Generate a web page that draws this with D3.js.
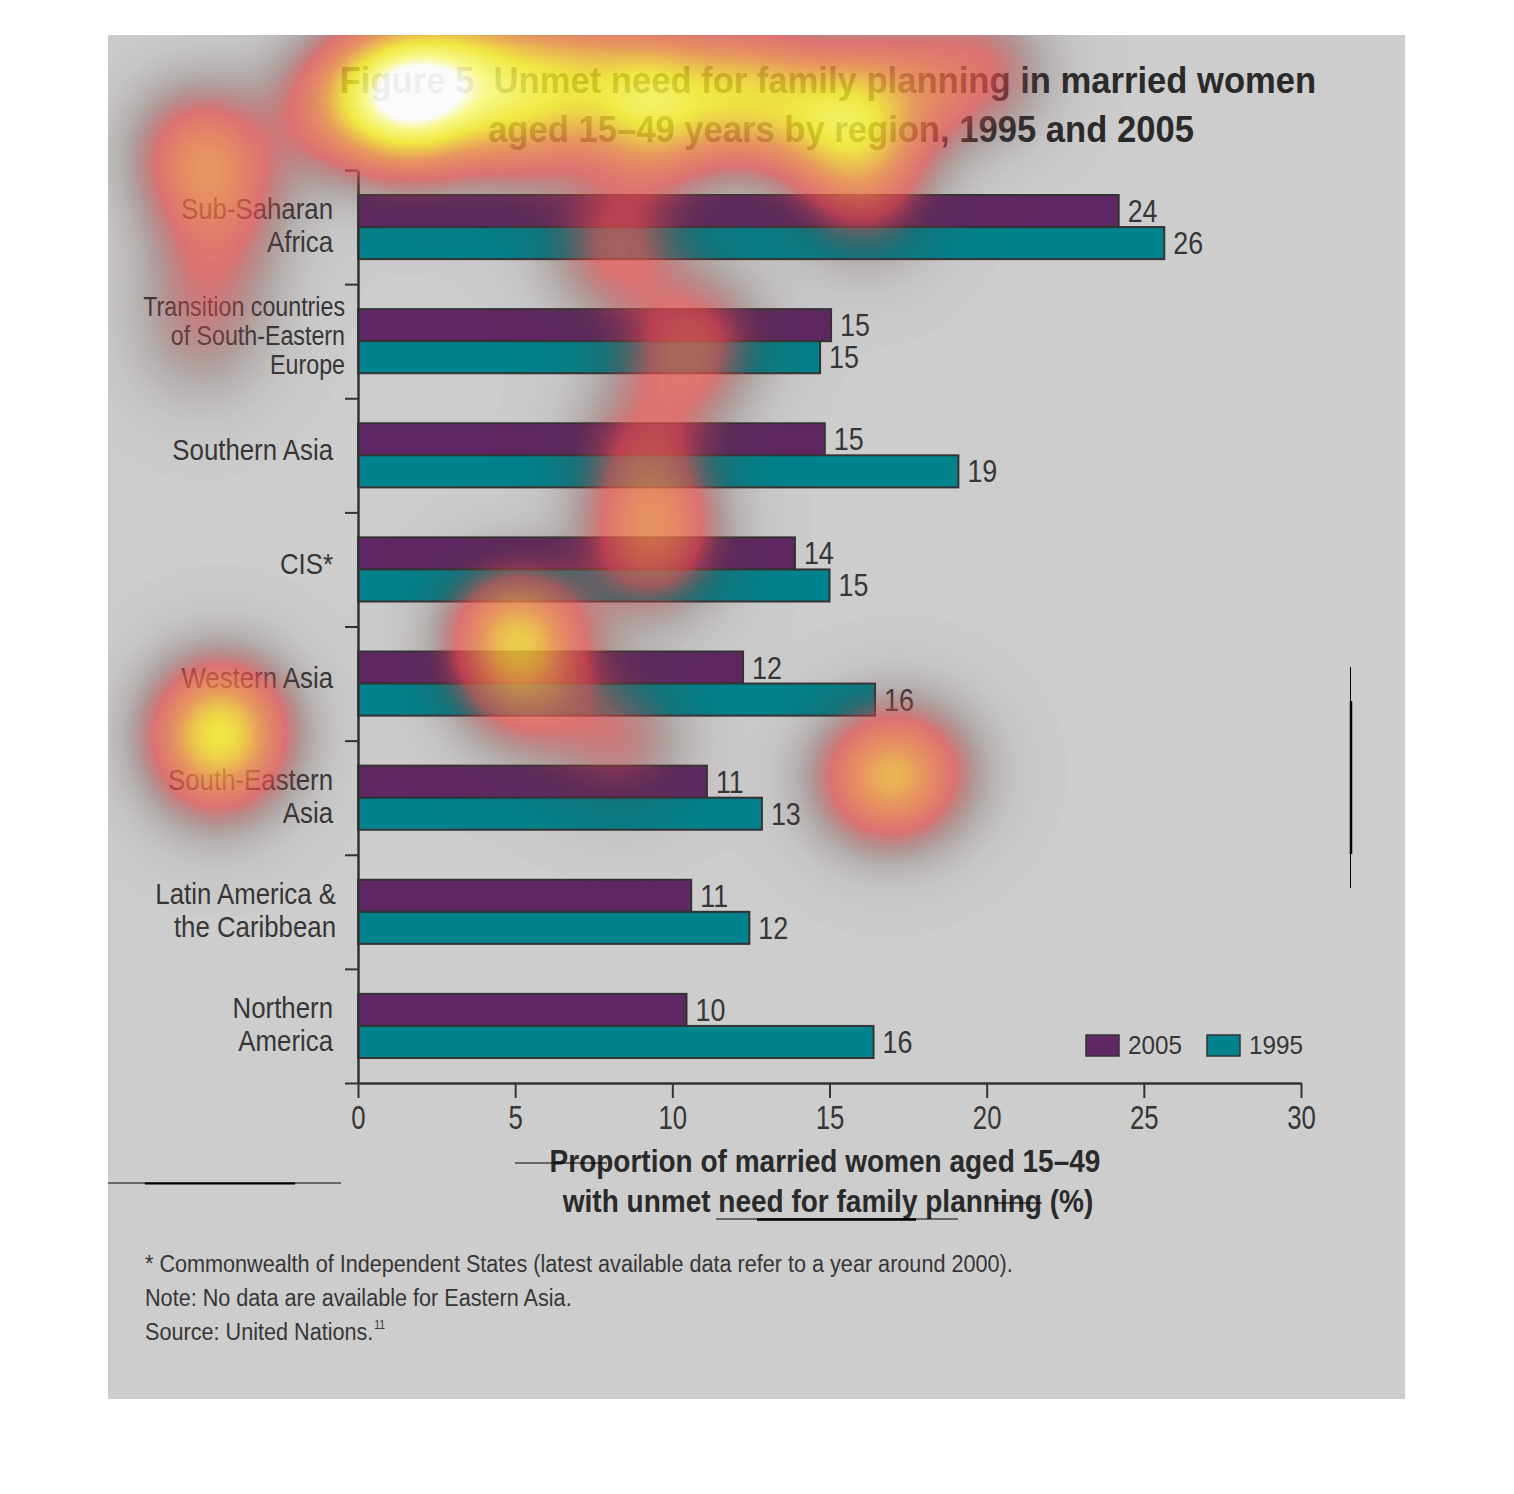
<!DOCTYPE html>
<html>
<head>
<meta charset="utf-8">
<script src="https://cdn.jsdelivr.net/npm/d3@7"></script>
<style>
  body { margin: 0; background: #fff; }
  #wrap { position: relative; width: 1514px; height: 1494px; }
  #heat { position: absolute; left: 0; top: 0; pointer-events: none; }
  text { font-family: "Liberation Sans", Arial, sans-serif; }
</style>
</head>
<body>
<div id="wrap"></div>
<script>
// ---- Data ----
const regions = ['Sub-Saharan Africa', 'Transition countries of South-Eastern Europe', 'Southern Asia', 'CIS*',
  'Western Asia', 'South-Eastern Asia', 'Latin America & the Caribbean', 'Northern America'];
const regionLines = [['Sub-Saharan', 'Africa'], ['Transition countries', 'of South-Eastern', 'Europe'], ['Southern Asia'], ['CIS*'],
  ['Western Asia'], ['South-Eastern', 'Asia'], ['Latin America &', 'the Caribbean'], ['Northern', 'America']];
const years = ['2005', '1995'];
const values2005 = [24.2, 15.05, 14.85, 13.9, 12.25, 11.1, 10.6, 10.45];
const values1995 = [25.65, 14.7, 19.1, 15.0, 16.45, 12.85, 12.45, 16.4];
const xTicks = [0, 5, 10, 15, 20, 25, 30];

const titleLines = ['Figure 5  Unmet need for family planning in married women', 'aged 15\u201349 years by region, 1995 and 2005'];
const axisTitleLines = ['Proportion of married women aged 15\u201349', 'with unmet need for family planning (%)'];
const notes = ['* Commonwealth of Independent States (latest available data refer to a year around 2000).',
  'Note: No data are available for Eastern Asia.', 'Source: United Nations.'];

// eye-tracking fixations: x in % units, row in region-band units (negative = title), weight
const gazeValue  = [1.34, -0.57, 3.56, 6.43, 9.29, 12.31, 15.02, 17.24, 19.79, 5.15, 9.29, 15.97, 16.13, 1.97,
  -5.03, -4.39, -4.71, -5.03,
  8.18, 10.88, 10.24, 8.97, 9.45, 9.29, 5.03, 5.31, 8.34,
  -4.39, -4.55, 16.61, 17.88];
const gazeRow    = [-0.74, -0.57, -0.88, -0.83, -0.74, -0.66, -0.53, -0.70, -0.88, -0.39, -0.35, -0.18, 0.31, -0.44,
  -0.18, 0.26, 0.88, 1.49,
  0.70, 1.40, 1.75, 2.41, 3.07, 3.42, 4.07, 4.64, 4.99,
  4.86, 5.26, 5.32, 5.26];
const gazeWeight = [0.6, 0.32, 0.45, 0.42, 0.45, 0.52, 0.42, 0.26, 0.25, 0.28, 0.28, 0.26, 0.16, 0.3,
  0.34, 0.2, 0.16, 0.14,
  0.28, 0.2, 0.16, 0.2, 0.28, 0.18, 0.55, 0.2, 0.22,
  0.58, 0.2, 0.42, 0.2];

// stray guide strokes left in the artwork [x1, y1, x2, y2, width]
const guideLines = [[108, 1183, 341, 1183, 1], [145, 1183.5, 295, 1183.5, 2], [515, 1163, 607, 1163, 1],
  [716, 1219, 958, 1219, 1], [757, 1219.5, 916, 1219.5, 2.5], [994, 1203, 1042, 1203, 1],
  [1350.5, 667, 1350.5, 888, 1], [1351, 701, 1351, 854, 2.5]];

// ---- Setup ----
const W = 1514, H = 1494;
const panel = { x: 108, y: 35, w: 1297, h: 1364 };
const purple = '#5f2763', teal = '#00838c', ink = '#363636', bg = '#cdcdcd';
const font = '"Liberation Sans", Arial, sans-serif';

// squeeze text horizontally to mimic the condensed face
function condense(sel, k) {
  sel.each(function () {
    const len = this.getComputedTextLength();
    d3.select(this).attr('textLength', len * k).attr('lengthAdjust', 'spacingAndGlyphs');
  });
  return sel;
}

const svg = d3.select('#wrap').append('svg')
  .attr('width', W)
  .attr('height', H);

svg.append('rect')
  .attr('x', panel.x).attr('y', panel.y)
  .attr('width', panel.w).attr('height', panel.h)
  .attr('fill', bg);

// Scales
const x = d3.scaleLinear().domain([0, 30]).range([358, 1301]);
const y = d3.scaleBand().domain(regions).range([170, 1083]);
const rowScale = d3.scaleLinear().domain([0, regions.length]).range([170, 1083]);
const yInner = d3.scaleBand().domain(years).range([0, y.bandwidth()]).paddingOuter(0.78);

const table = regions.map((r, i) => ({ region: r, lines: regionLines[i], vals: [values2005[i], values1995[i]] }));

// Title
svg.selectAll('.title')
  .data(titleLines)
  .enter()
  .append('text')
  .attr('class', 'title')
  .attr('x', (d, i) => i === 0 ? 828 : 841)
  .attr('y', (d, i) => i === 0 ? 93 : 142)
  .attr('text-anchor', 'middle')
  .style('white-space', 'pre')
  .style('font-size', '37px')
  .style('font-weight', 'bold')
  .attr('fill', '#2a2a2a')
  .text(d => d)
  .call(condense, 0.935);

// Bars
const groups = svg.selectAll('.region')
  .data(table)
  .enter()
  .append('g')
  .attr('class', 'region')
  .attr('transform', d => `translate(0, ${y(d.region)})`);

groups.selectAll('rect')
  .data(d => d.vals.map((v, j) => ({ year: years[j], v })))
  .enter()
  .append('rect')
  .attr('x', x(0))
  .attr('y', d => yInner(d.year))
  .attr('width', d => x(d.v) - x(0))
  .attr('height', yInner.bandwidth())
  .attr('fill', d => d.year === '2005' ? purple : teal)
  .attr('stroke', '#333')
  .attr('stroke-width', 2);

groups.selectAll('.val')
  .data(d => d.vals.map((v, j) => ({ year: years[j], v })))
  .enter()
  .append('text')
  .attr('class', 'val')
  .attr('x', d => x(d.v) + 9)
  .attr('y', d => yInner(d.year) + yInner.bandwidth() / 2 + 11)
  .style('font-size', '32px')
  .attr('fill', ink)
  .text(d => Math.round(d.v))
  .call(condense, 0.84);

// Region labels
groups.each(function (d) {
  const g = d3.select(this);
  const n = d.lines.length;
  const fs = n > 2 ? 27 : 30;
  const lh = n > 2 ? 29 : 33;
  const cx = n > 2 ? 345 : 333;
  const center = y.bandwidth() / 2 + (n === 2 ? -2 : -6);
  g.selectAll('.lab')
    .data(d.lines)
    .enter()
    .append('text')
    .attr('class', 'lab')
    .attr('x', d.region.startsWith('Latin') ? 336 : cx)
    .attr('y', (t, i) => center + (i - (n - 1) / 2) * lh + fs * 0.36)
    .attr('text-anchor', 'end')
    .style('font-size', fs + 'px')
    .attr('fill', ink)
    .text(t => t)
    .call(condense, 0.86);
});

// Axes
const xAxis = d3.axisBottom(x).tickValues(xTicks).tickSize(15).tickSizeOuter(0);
const gx = svg.append('g')
  .attr('transform', `translate(0, 1083)`)
  .attr('color', '#333')
  .call(xAxis);
gx.select('.domain').attr('stroke-width', 2.5);
gx.selectAll('.tick line').attr('stroke-width', 2);
gx.selectAll('.tick text')
  .attr('y', 23)
  .style('font-size', '33px')
  .style('font-family', font)
  .attr('fill', ink)
  .call(condense, 0.78);

const yAxis = d3.axisLeft(rowScale).tickValues(d3.range(regions.length + 1)).tickFormat('').tickSize(13).tickSizeOuter(0);
const gy = svg.append('g')
  .attr('transform', `translate(${x(0)}, 0)`)
  .attr('color', '#333')
  .call(yAxis);
gy.select('.domain').attr('stroke-width', 2.5);
gy.selectAll('.tick line').attr('stroke-width', 2);

// Axis title
svg.selectAll('.axtitle')
  .data(axisTitleLines)
  .enter()
  .append('text')
  .attr('class', 'axtitle')
  .attr('x', (d, i) => i === 0 ? 825 : 828)
  .attr('y', (d, i) => 1172 + i * 40)
  .attr('text-anchor', 'middle')
  .style('font-size', '32px')
  .style('font-weight', 'bold')
  .attr('fill', '#2a2a2a')
  .text(d => d)
  .call(condense, 0.875);

// Legend
const legend = svg.append('g').attr('transform', 'translate(1086, 1035)');
const legItems = legend.selectAll('g')
  .data(years)
  .enter()
  .append('g')
  .attr('transform', (d, i) => `translate(${i * 121}, 0)`);
legItems.append('rect')
  .attr('width', 33).attr('height', 21)
  .attr('fill', d => d === '2005' ? purple : teal)
  .attr('stroke', '#333').attr('stroke-width', 1.5);
legItems.append('text')
  .attr('x', 42).attr('y', 19)
  .style('font-size', '25px')
  .attr('fill', ink)
  .text(d => d)
  .call(condense, 0.97);

// Notes
const noteText = svg.selectAll('.note')
  .data(notes)
  .enter()
  .append('text')
  .attr('class', 'note')
  .attr('x', 145)
  .attr('y', (d, i) => 1272 + i * 34)
  .style('font-size', '23px')
  .attr('fill', ink)
  .text(d => d)
  .call(condense, 0.94);
const srcLen = noteText.filter((d, i) => i === 2).attr('textLength');
svg.append('text')
  .attr('x', 145 + (+srcLen) + 1)
  .attr('y', 1272 + 2 * 34 - 11)
  .style('font-size', '13px')
  .attr('fill', ink)
  .text('11')
  .call(condense, 0.8);

// Guide strokes
svg.selectAll('.guide')
  .data(guideLines)
  .enter()
  .append('line')
  .attr('x1', d => d[0]).attr('y1', d => d[1])
  .attr('x2', d => d[2]).attr('y2', d => d[3])
  .attr('stroke', '#000')
  .attr('stroke-width', d => d[4]);

// ---- Gaze heatmap overlay ----
const canvas = d3.select('#wrap').append('canvas')
  .attr('id', 'heat')
  .attr('width', W)
  .attr('height', H)
  .node();
const ctx = canvas.getContext('2d');
const dens = new Float32Array(W * H);
const sigma = 48;
const R = sigma * 4;
gazeValue.forEach((v, i) => {
  const cx = x(v), cy = rowScale(gazeRow[i]), w = gazeWeight[i];
  const y0 = Math.max(panel.y, Math.floor(cy - R)), y1 = Math.min(panel.y + panel.h, Math.ceil(cy + R));
  const x0 = Math.max(panel.x, Math.floor(cx - R)), x1 = Math.min(panel.x + panel.w, Math.ceil(cx + R));
  for (let yy = y0; yy < y1; yy++) {
    for (let xx = x0; xx < x1; xx++) {
      const dx = xx - cx, dy = yy - cy;
      dens[yy * W + xx] += w * Math.exp(-(dx * dx + dy * dy) / (2 * sigma * sigma));
    }
  }
});

const heatColor = d3.scaleLinear()
  .domain([0, 0.1, 0.28, 0.5, 0.72, 0.9, 1])
  .range(['rgba(90,70,70,0)', 'rgba(90,60,60,0.2)', 'rgba(225,75,75,0.7)', 'rgba(238,140,65,0.8)',
    'rgba(248,238,30,0.8)', 'rgba(255,255,130,0.86)', 'rgba(255,255,255,0.92)'])
  .clamp(true);
const lut = d3.range(256).map(i => d3.rgb(heatColor(i / 255)));

const img = ctx.createImageData(W, H);
for (let p = 0; p < W * H; p++) {
  const d = dens[p];
  if (d <= 0.002) continue;
  const c = lut[Math.min(255, Math.round(d * 255))];
  img.data[p * 4] = c.r;
  img.data[p * 4 + 1] = c.g;
  img.data[p * 4 + 2] = c.b;
  img.data[p * 4 + 3] = Math.round(c.opacity * 255);
}
ctx.putImageData(img, 0, 0);
</script>
</body>
</html>
